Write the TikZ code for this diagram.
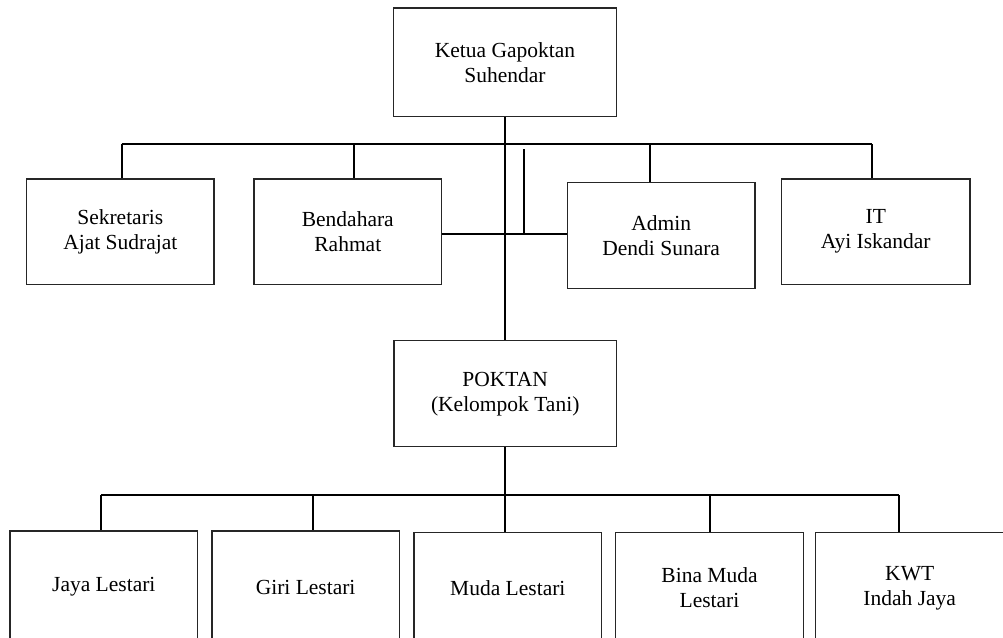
\documentclass[tikz,border=0pt]{standalone}
\usepackage{fontspec}
\setmainfont{Liberation Serif}
\begin{document}
\begin{tikzpicture}[x=1pt,y=-1pt,
  box/.style={draw=black!85,line width=1.3pt,rectangle,inner sep=0pt,align=center,
    font=\fontsize{21.5pt}{25pt}\selectfont},
  link/.style={draw=black,line width=1.8pt}]
\useasboundingbox (0,0) rectangle (1003,637);
\clip (0,0) rectangle (1003,637);
% nodes
\node[box,minimum width=223.4pt,minimum height=108.7pt] (ketua) at (505,62.3) {Ketua Gapoktan\\Suhendar};
\node[box,minimum width=187.3pt,minimum height=105.3pt] (sek) at (120.3,231.7) {Sekretaris\\Ajat Sudrajat};
\node[box,minimum width=187.7pt,minimum height=105.3pt] (bend) at (347.8,231.7) {Bendahara\\Rahmat};
\node[box,minimum width=187.7pt,minimum height=105.6pt] (admin) at (661.2,235.5) {Admin\\Dendi Sunara};
\node[box,minimum width=188.3pt,minimum height=105.3pt] (it) at (875.8,231.7) {IT\\Ayi Iskandar};
\node[box,minimum width=222.3pt,minimum height=106pt] (poktan) at (505.2,393.7) {POKTAN\\(Kelompok Tani)};
\node[box,minimum width=187.7pt,minimum height=112pt] (jaya) at (103.8,587) {Jaya Lestari};
\node[box,minimum width=187.3pt,minimum height=112pt] (giri) at (305.6,587) {Giri Lestari};
\node[box,minimum width=187.7pt,minimum height=110.3pt] (muda) at (507.8,587.8) {Muda Lestari};
\node[box,minimum width=187.6pt,minimum height=110.3pt] (bina) at (709.5,587.8) {Bina Muda\\Lestari};
\node[box,minimum width=188pt,minimum height=110.3pt] (kwt) at (909.7,587.8) {KWT\\Indah Jaya};
% junction coordinates
\coordinate (t1) at (121.7,144.3);
\coordinate (t2) at (354,144.3);
\coordinate (t3) at (649.7,144.3);
\coordinate (t4) at (872.3,144.3);
\coordinate (s1) at (524,149);
\coordinate (s2) at (524,234.3);
\coordinate (b1) at (101,495);
\coordinate (b2) at (312.7,495);
\coordinate (b3) at (505,495);
\coordinate (b4) at (710.3,495);
\coordinate (b5) at (899.3,495);
% connectors
\draw[link] (ketua.south) -- (ketua.south |- poktan.north);
\draw[link] (t1) -- (t4);
\draw[link] (t1) -- (t1 |- sek.north);
\draw[link] (t2) -- (t2 |- bend.north);
\draw[link] (t3) -- (t3 |- admin.north);
\draw[link] (t4) -- (t4 |- it.north);
\draw[link] (bend.east |- s2) -- (admin.west |- s2);
\draw[link] (s1) -- (s2);
\draw[link] (poktan.south) -- (poktan.south |- b3);
\draw[link] (b1) -- (b5);
\draw[link] (b1) -- (b1 |- jaya.north);
\draw[link] (b2) -- (b2 |- giri.north);
\draw[link] (b3) -- (b3 |- muda.north);
\draw[link] (b4) -- (b4 |- bina.north);
\draw[link] (b5) -- (b5 |- kwt.north);
\end{tikzpicture}
\end{document}
